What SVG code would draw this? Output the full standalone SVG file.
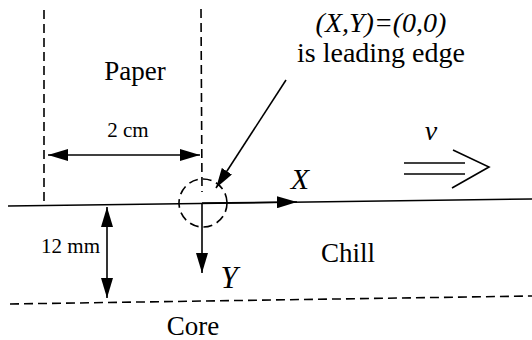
<svg xmlns="http://www.w3.org/2000/svg" width="532" height="340" viewBox="0 0 532 340" font-family="'Liberation Serif', 'Times New Roman', 'DejaVu Serif', serif">
<style>
.big{font-size:27px}
.sm{font-size:21px}
.it{font-style:italic}
.ln{stroke:#000;stroke-width:1.6;fill:none}
.dash{stroke:#000;stroke-width:1.6;fill:none;stroke-dasharray:9 5}
</style>
<defs>
<marker id="ah" markerWidth="20" markerHeight="12" refX="20" refY="6" orient="auto-start-reverse" markerUnits="userSpaceOnUse">
<path d="M0,0 L20,6 L0,12 Z" fill="#000"/>
</marker>
</defs>
<g id="paper-region">
<line class="dash" x1="44" y1="10" x2="44" y2="205"/>
<line class="dash" x1="201" y1="9" x2="202" y2="192"/>
<text class="big" x="135" y="80" text-anchor="middle" font-family="Liberation Serif, serif">Paper</text>
</g>
<g id="chill-surface">
<line class="ln" x1="8" y1="206" x2="532" y2="199"/>
<text class="big" x="348" y="262" text-anchor="middle" font-family="Liberation Serif, serif">Chill</text>
</g>
<g id="core-boundary">
<line class="dash" x1="10" y1="304" x2="532" y2="296"/>
<text class="big" x="193" y="335" text-anchor="middle" font-family="Liberation Serif, serif">Core</text>
</g>
<g id="leading-edge">
<circle cx="203" cy="203" r="24" class="dash" stroke-dasharray="9 9"/>
<text class="it" x="381" y="32" font-size="28" text-anchor="middle" font-family="Liberation Serif, serif">(X,Y)=(0,0)</text>
<text x="381" y="62" font-size="28" text-anchor="middle" font-family="Liberation Serif, serif">is leading edge</text>
</g>
<g id="velocity">
<text class="it" x="431" y="140" font-size="28" text-anchor="middle" font-family="Liberation Serif, serif">v</text>
<line class="ln" x1="404" y1="163" x2="465" y2="163"/>
<line class="ln" x1="404" y1="174" x2="465" y2="174"/>
<polyline class="ln" points="453,150 489,167 452,188"/>
</g>
<g id="connectors">
<line class="ln" x1="48" y1="155" x2="200" y2="155" marker-start="url(#ah)" marker-end="url(#ah)"/>
<line class="ln" x1="107" y1="207" x2="107" y2="298" marker-start="url(#ah)" marker-end="url(#ah)"/>
<line class="ln" x1="202" y1="203" x2="297" y2="202" marker-end="url(#ah)"/>
<line class="ln" x1="202" y1="203" x2="202" y2="273" marker-end="url(#ah)"/>
<line class="ln" x1="286" y1="80" x2="216" y2="188" marker-end="url(#ah)"/>
</g>
<g id="labels">
<text class="sm" x="128" y="137" text-anchor="middle" font-family="Liberation Serif, serif">2 cm</text>
<text class="sm" x="100" y="253" text-anchor="end" font-family="Liberation Serif, serif">12 mm</text>
<text class="it" x="300" y="189" font-size="30" text-anchor="middle" font-family="Liberation Serif, serif">X</text>
<text class="it" x="229" y="288" font-size="31" text-anchor="middle" font-family="Liberation Serif, serif">Y</text>
</g>
</svg>
